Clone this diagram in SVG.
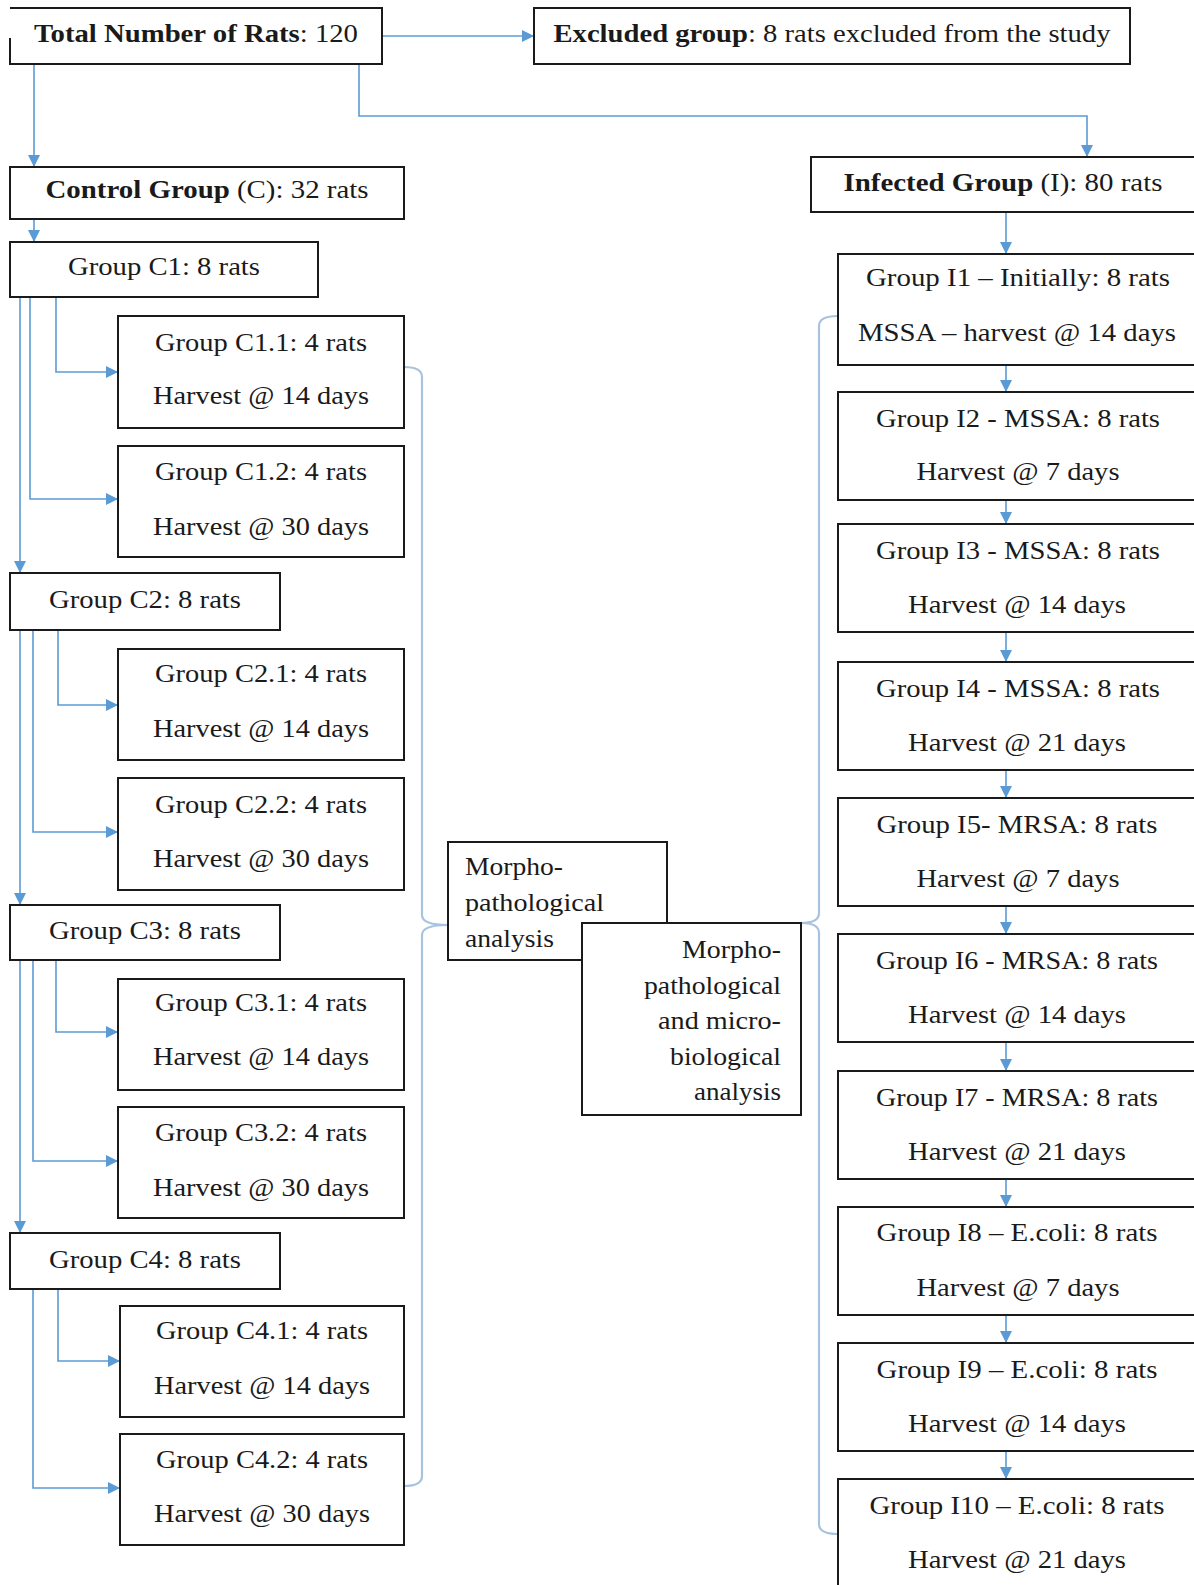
<svg xmlns="http://www.w3.org/2000/svg" width="1194" height="1585" viewBox="0 0 1194 1585">
<style>
.box{fill:#fff;stroke:#1a1a1a;stroke-width:2}
.t{font-family:'Liberation Serif',Tinos,'Times New Roman',Times,serif;font-size:25px;fill:#1a1a1a;text-anchor:middle}
.l{text-anchor:start}
.r{text-anchor:end}
.b{font-weight:bold}
.c{fill:none;stroke:#5b9bd5;stroke-width:1.6}
.br{fill:none;stroke:#a8c3e0;stroke-width:2.2}
</style>
<defs>
<marker id="a" markerUnits="userSpaceOnUse" markerWidth="12" markerHeight="12" viewBox="0 0 12 12" refX="12" refY="6" orient="auto">
<path d="M0,0 L12,6 L0,12 Z" fill="#5b9bd5"/>
</marker>
</defs>
<rect width="1194" height="1585" fill="#fff"/>
<g id="connectors">
<path class="c" d="M382,36 H534" marker-end="url(#a)"/>
<path class="c" d="M359,64 V116 H1087 V157" marker-end="url(#a)"/>
<path class="c" d="M34,64 V167" marker-end="url(#a)"/>
<path class="c" d="M34,219 V242" marker-end="url(#a)"/>
<path class="c" d="M20,297 V573" marker-end="url(#a)"/>
<path class="c" d="M30,297 V499 H118" marker-end="url(#a)"/>
<path class="c" d="M56,297 V372 H118" marker-end="url(#a)"/>
<path class="c" d="M20,630 V905" marker-end="url(#a)"/>
<path class="c" d="M33,630 V832 H118" marker-end="url(#a)"/>
<path class="c" d="M58,630 V705 H118" marker-end="url(#a)"/>
<path class="c" d="M20,960 V1233" marker-end="url(#a)"/>
<path class="c" d="M33,960 V1161 H118" marker-end="url(#a)"/>
<path class="c" d="M56,960 V1032 H118" marker-end="url(#a)"/>
<path class="c" d="M33,1289 V1488 H120" marker-end="url(#a)"/>
<path class="c" d="M58,1289 V1361 H120" marker-end="url(#a)"/>
<path class="c" d="M1006,212 V254" marker-end="url(#a)"/>
<path class="c" d="M1006,365 V392" marker-end="url(#a)"/>
<path class="c" d="M1006,500 V524" marker-end="url(#a)"/>
<path class="c" d="M1006,632 V662" marker-end="url(#a)"/>
<path class="c" d="M1006,770 V798" marker-end="url(#a)"/>
<path class="c" d="M1006,906 V934" marker-end="url(#a)"/>
<path class="c" d="M1006,1042 V1071" marker-end="url(#a)"/>
<path class="c" d="M1006,1179 V1207" marker-end="url(#a)"/>
<path class="c" d="M1006,1315 V1343" marker-end="url(#a)"/>
<path class="c" d="M1006,1451 V1479" marker-end="url(#a)"/>
<path class="br" d="M404,367 Q422,367 422,377 V915 Q422,925 448,925 M448,925 Q422,925 422,935 V1476 Q422,1486 404,1486"/>
<path class="br" d="M838,316 Q819,316 819,326 V913 Q819,923 801,923 M801,923 Q819,923 819,933 V1524 Q819,1534 838,1534"/>
</g>
<g id="total"><rect x="10" y="8" width="372" height="56" fill="#fff"/><path class="box" fill="none" d="M10,8 H382 V64 H10 V38"/><text class="t" x="196" y="42" textLength="324" lengthAdjust="spacingAndGlyphs"><tspan class="b">Total Number of Rats</tspan>: 120</text></g>
<g id="excluded"><rect class="box" x="534" y="8" width="596" height="56"/><text class="t" x="832" y="42" textLength="557" lengthAdjust="spacingAndGlyphs"><tspan class="b">Excluded group</tspan>: 8 rats excluded from the study</text></g>
<g id="control"><rect class="box" x="10" y="167" width="394" height="52"/><text class="t" x="207" y="198" textLength="323" lengthAdjust="spacingAndGlyphs"><tspan class="b">Control Group</tspan> (C): 32 rats</text></g>
<g id="infected"><rect class="box" x="811" y="157" width="384" height="55"/><text class="t" x="1003" y="191" textLength="319" lengthAdjust="spacingAndGlyphs"><tspan class="b">Infected Group</tspan> (I): 80 rats</text></g>

<g id="c1"><rect class="box" x="10" y="242" width="308" height="55"/><text class="t" x="164" y="275" textLength="192" lengthAdjust="spacingAndGlyphs">Group C1: 8 rats</text></g>
<g id="c1-1"><rect class="box" x="118" y="316" width="286" height="112"/><text class="t" x="261" y="351" textLength="212" lengthAdjust="spacingAndGlyphs">Group C1.1: 4 rats</text><text class="t" x="261" y="404" textLength="216" lengthAdjust="spacingAndGlyphs">Harvest @ 14 days</text></g>
<g id="c1-2"><rect class="box" x="118" y="446" width="286" height="111"/><text class="t" x="261" y="480" textLength="212" lengthAdjust="spacingAndGlyphs">Group C1.2: 4 rats</text><text class="t" x="261" y="535" textLength="216" lengthAdjust="spacingAndGlyphs">Harvest @ 30 days</text></g>
<g id="c2"><rect class="box" x="10" y="573" width="270" height="57"/><text class="t" x="145" y="608" textLength="192" lengthAdjust="spacingAndGlyphs">Group C2: 8 rats</text></g>
<g id="c2-1"><rect class="box" x="118" y="649" width="286" height="111"/><text class="t" x="261" y="682" textLength="212" lengthAdjust="spacingAndGlyphs">Group C2.1: 4 rats</text><text class="t" x="261" y="737" textLength="216" lengthAdjust="spacingAndGlyphs">Harvest @ 14 days</text></g>
<g id="c2-2"><rect class="box" x="118" y="778" width="286" height="112"/><text class="t" x="261" y="813" textLength="212" lengthAdjust="spacingAndGlyphs">Group C2.2: 4 rats</text><text class="t" x="261" y="867" textLength="216" lengthAdjust="spacingAndGlyphs">Harvest @ 30 days</text></g>
<g id="c3"><rect class="box" x="10" y="905" width="270" height="55"/><text class="t" x="145" y="939" textLength="192" lengthAdjust="spacingAndGlyphs">Group C3: 8 rats</text></g>
<g id="c3-1"><rect class="box" x="118" y="979" width="286" height="111"/><text class="t" x="261" y="1011" textLength="212" lengthAdjust="spacingAndGlyphs">Group C3.1: 4 rats</text><text class="t" x="261" y="1065" textLength="216" lengthAdjust="spacingAndGlyphs">Harvest @ 14 days</text></g>
<g id="c3-2"><rect class="box" x="118" y="1107" width="286" height="111"/><text class="t" x="261" y="1141" textLength="212" lengthAdjust="spacingAndGlyphs">Group C3.2: 4 rats</text><text class="t" x="261" y="1196" textLength="216" lengthAdjust="spacingAndGlyphs">Harvest @ 30 days</text></g>
<g id="c4"><rect class="box" x="10" y="1233" width="270" height="56"/><text class="t" x="145" y="1268" textLength="192" lengthAdjust="spacingAndGlyphs">Group C4: 8 rats</text></g>
<g id="c4-1"><rect class="box" x="120" y="1306" width="284" height="111"/><text class="t" x="262" y="1339" textLength="212" lengthAdjust="spacingAndGlyphs">Group C4.1: 4 rats</text><text class="t" x="262" y="1394" textLength="216" lengthAdjust="spacingAndGlyphs">Harvest @ 14 days</text></g>
<g id="c4-2"><rect class="box" x="120" y="1434" width="284" height="111"/><text class="t" x="262" y="1468" textLength="212" lengthAdjust="spacingAndGlyphs">Group C4.2: 4 rats</text><text class="t" x="262" y="1522" textLength="216" lengthAdjust="spacingAndGlyphs">Harvest @ 30 days</text></g>

<g id="i1"><rect class="box" x="838" y="254" width="360" height="111"/><text class="t" x="1018" y="286" textLength="304" lengthAdjust="spacingAndGlyphs">Group I1 – Initially: 8 rats</text><text class="t" x="1017" y="341" textLength="318" lengthAdjust="spacingAndGlyphs">MSSA – harvest @ 14 days</text></g>
<g id="i2"><rect class="box" x="838" y="392" width="360" height="108"/><text class="t" x="1018" y="427" textLength="284" lengthAdjust="spacingAndGlyphs">Group I2 - MSSA: 8 rats</text><text class="t" x="1018" y="480" textLength="203" lengthAdjust="spacingAndGlyphs">Harvest @ 7 days</text></g>
<g id="i3"><rect class="box" x="838" y="524" width="360" height="108"/><text class="t" x="1018" y="559" textLength="284" lengthAdjust="spacingAndGlyphs">Group I3 - MSSA: 8 rats</text><text class="t" x="1017" y="613" textLength="218" lengthAdjust="spacingAndGlyphs">Harvest @ 14 days</text></g>
<g id="i4"><rect class="box" x="838" y="662" width="360" height="108"/><text class="t" x="1018" y="697" textLength="284" lengthAdjust="spacingAndGlyphs">Group I4 - MSSA: 8 rats</text><text class="t" x="1017" y="751" textLength="218" lengthAdjust="spacingAndGlyphs">Harvest @ 21 days</text></g>
<g id="i5"><rect class="box" x="838" y="798" width="360" height="108"/><text class="t" x="1017" y="833" textLength="281" lengthAdjust="spacingAndGlyphs">Group I5- MRSA: 8 rats</text><text class="t" x="1018" y="887" textLength="203" lengthAdjust="spacingAndGlyphs">Harvest @ 7 days</text></g>
<g id="i6"><rect class="box" x="838" y="934" width="360" height="108"/><text class="t" x="1017" y="969" textLength="282" lengthAdjust="spacingAndGlyphs">Group I6 - MRSA: 8 rats</text><text class="t" x="1017" y="1023" textLength="218" lengthAdjust="spacingAndGlyphs">Harvest @ 14 days</text></g>
<g id="i7"><rect class="box" x="838" y="1071" width="360" height="108"/><text class="t" x="1017" y="1106" textLength="282" lengthAdjust="spacingAndGlyphs">Group I7 - MRSA: 8 rats</text><text class="t" x="1017" y="1160" textLength="218" lengthAdjust="spacingAndGlyphs">Harvest @ 21 days</text></g>
<g id="i8"><rect class="box" x="838" y="1207" width="360" height="108"/><text class="t" x="1017" y="1241" textLength="281" lengthAdjust="spacingAndGlyphs">Group I8 – E.coli: 8 rats</text><text class="t" x="1018" y="1296" textLength="203" lengthAdjust="spacingAndGlyphs">Harvest @ 7 days</text></g>
<g id="i9"><rect class="box" x="838" y="1343" width="360" height="108"/><text class="t" x="1017" y="1378" textLength="281" lengthAdjust="spacingAndGlyphs">Group I9 – E.coli: 8 rats</text><text class="t" x="1017" y="1432" textLength="218" lengthAdjust="spacingAndGlyphs">Harvest @ 14 days</text></g>
<g id="i10"><rect class="box" x="838" y="1479" width="360" height="120"/><text class="t" x="1017" y="1514" textLength="295" lengthAdjust="spacingAndGlyphs">Group I10 – E.coli: 8 rats</text><text class="t" x="1017" y="1568" textLength="218" lengthAdjust="spacingAndGlyphs">Harvest @ 21 days</text></g>

<g id="morpho"><rect class="box" x="448" y="842" width="219" height="118"/><text class="t l" x="465" y="875" textLength="98" lengthAdjust="spacingAndGlyphs">Morpho-</text><text class="t l" x="465" y="911" textLength="139" lengthAdjust="spacingAndGlyphs">pathological</text><text class="t l" x="465" y="947" textLength="89" lengthAdjust="spacingAndGlyphs">analysis</text></g>
<g id="morpho-micro"><rect class="box" x="582" y="923" width="219" height="192"/><text class="t r" x="781" y="958" textLength="99" lengthAdjust="spacingAndGlyphs">Morpho-</text><text class="t r" x="781" y="994" textLength="137" lengthAdjust="spacingAndGlyphs">pathological</text><text class="t r" x="781" y="1029" textLength="123" lengthAdjust="spacingAndGlyphs">and micro-</text><text class="t r" x="781" y="1065" textLength="111" lengthAdjust="spacingAndGlyphs">biological</text><text class="t r" x="781" y="1100" textLength="87" lengthAdjust="spacingAndGlyphs">analysis</text></g>
</svg>
